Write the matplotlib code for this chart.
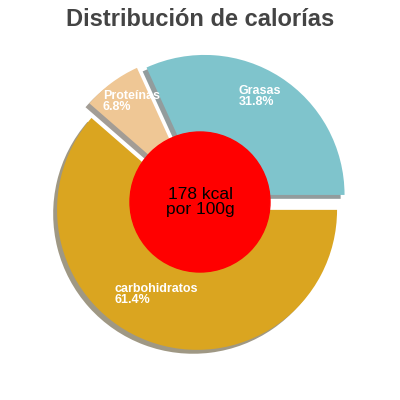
import matplotlib.pyplot as plt
import numpy as np

plt.rcParams["font.family"] = ["Liberation Sans", "DejaVu Sans"]

labels = ["Grasas", "Proteínas", "carbohidratos"]
values = [31.8, 6.8, 61.4]
colors = ["#7FC4CC", "#EFC795", "#DAA520"]

fig = plt.figure(figsize=(4, 4), dpi=100)
ax = fig.add_axes([0.115, 0.06, 0.77, 0.87])
wedges, _ = ax.pie(values, colors=colors, startangle=0, counterclock=True,
                   explode=[0.06] * 3, shadow=True, radius=1.0,
                   wedgeprops=dict(linewidth=0))
ax.add_patch(plt.Circle((0, 0), 0.5, color="#FF0000", zorder=5))
ax.text(0, 0, "178 kcal\npor 100g", ha="center", va="center",
        fontsize=12.5, zorder=6, linespacing=1.0)

# label positions in polar coords (angle deg, radius)
label_pos = [(70, 0.8), (134, 1.0), (227, 0.9)]
for lab, val, (ang, r) in zip(labels, values, label_pos):
    x = r * np.cos(np.radians(ang))
    y = r * np.sin(np.radians(ang))
    ax.text(x, y, f"{lab}\n{val}%", color="white", fontsize=9,
            fontweight="bold", ha="left", va="center", linespacing=0.9, zorder=6)

ax.set_xlim(-1.1, 1.1)
ax.set_ylim(-1.1, 1.1)
ax.set_aspect("equal")
fig.text(0.5, 0.95, "Distribución de calorías", ha="center", va="center",
         fontsize=17, fontweight="bold", color="#444444")
fig.savefig("out.png", dpi=100)
